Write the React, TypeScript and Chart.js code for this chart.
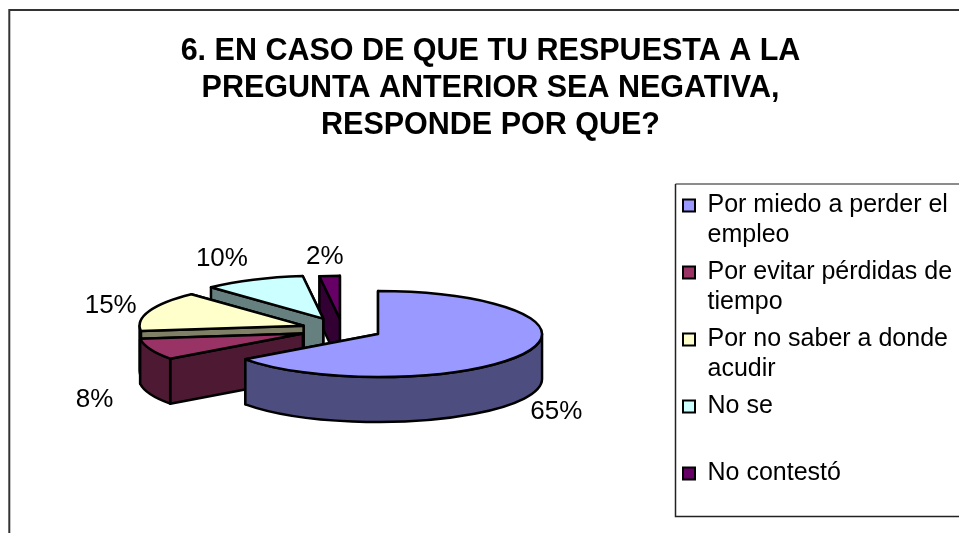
import React, { useEffect, useRef } from "react";
import { Chart, registerables } from "chart.js";

Chart.register(...registerables);

const categories = [
  ["Por miedo a perder el", "empleo"],
  ["Por evitar pérdidas de", "tiempo"],
  ["Por no saber a donde", "acudir"],
  ["No se", ""],
  ["No contestó", ""],
];
const percentages = [65, 8, 15, 10, 2];
const titleLines = [
  "6. EN CASO DE QUE TU RESPUESTA A LA",
  "PREGUNTA ANTERIOR SEA NEGATIVA,",
  "RESPONDE POR QUE?",
];
const topColors = ["#9999FF", "#993366", "#FFFFCC", "#CCFFFF", "#660066"];
const sideColors = ["#4D4D80", "#4D1933", "#808066", "#668080", "#330033"];

const FONT = "'Liberation Sans', Arial, sans-serif";
const TILT = 0.262;
const DEPTH = 45;
const EXPLODE = [160, 170, 165, 180, 160]; // Chart.js offset units: the arc moves by offset / 4 px
const RADIUS = 164;
const CENTER = { x: 342.4, y: 329.3 };
const LEGEND_FRAME = { left: 675, top: 184, bottom: 516 };
const LEGEND_POS = { left: 676, top: 186 };
const LABEL_GAP_X = [36, 60, 41, 74, 75];
const LABEL_GAP_Y = [30, 16, 16, 23, 19];

const layoutFix = {
  id: "layoutFix",
  afterLayout(chart: any) {
    const a = chart.chartArea;
    const w = a.width;
    const h = a.height;
    a.left = CENTER.x - w / 2;
    a.right = CENTER.x + w / 2;
    a.top = CENTER.y - h / 2;
    a.bottom = CENTER.y + h / 2;
    const l = chart.legend;
    const dx = LEGEND_POS.left - l.left;
    const dy = LEGEND_POS.top - l.top;
    l.left += dx;
    l.right += dx;
    l.top += dy;
    l.bottom += dy;
    l.adjustHitBoxes();
    const t = chart.titleBlock;
    const cx = 490.5;
    const tw = t.right - t.left;
    t.left = cx - tw / 2;
    t.right = cx + tw / 2;
  },
};

const framePlugin = {
  id: "frame",
  beforeDraw(chart: any) {
    const { ctx, width, height } = chart;
    ctx.save();
    ctx.fillStyle = "#ffffff";
    ctx.fillRect(0, 0, width, height);
    ctx.strokeStyle = "#333333";
    ctx.lineWidth = 2;
    ctx.beginPath();
    ctx.moveTo(width + 5, 10);
    ctx.lineTo(9.3, 10);
    ctx.lineTo(9.3, height + 5);
    ctx.stroke();
    ctx.lineWidth = 1.5;
    ctx.strokeStyle = "#666666";
    ctx.beginPath();
    ctx.moveTo(width + 5, LEGEND_FRAME.top);
    ctx.lineTo(LEGEND_FRAME.left + 0.5, LEGEND_FRAME.top);
    ctx.stroke();
    ctx.strokeStyle = "#222222";
    ctx.beginPath();
    ctx.moveTo(LEGEND_FRAME.left + 0.5, LEGEND_FRAME.top);
    ctx.lineTo(LEGEND_FRAME.left + 0.5, LEGEND_FRAME.bottom + 0.5);
    ctx.lineTo(width + 5, LEGEND_FRAME.bottom + 0.5);
    ctx.stroke();
    ctx.restore();
  },
};

const pie3d = {
  id: "pie3d",
  beforeDatasetsDraw(chart: any) {
    const { ctx } = chart;
    const arcs = chart.getDatasetMeta(0).data;
    ctx.save();
    ctx.lineWidth = 2.5;
    ctx.lineJoin = "round";
    ctx.strokeStyle = "#000000";
    for (let i = arcs.length - 1; i >= 0; i--) {
      const el = arcs[i];
      const { x, y, startAngle: a0, endAngle: a1, outerRadius: r } = el;
      const mid = (a0 + a1) / 2;
      const d = el.options.offset / 4;
      const cx = x + d * Math.cos(mid);
      const cy = y + TILT * d * Math.sin(mid);
      const ry = r * TILT;
      const px = (a: number) => cx + r * Math.cos(a);
      const py = (a: number) => cy + ry * Math.sin(a);

      ctx.fillStyle = sideColors[i];
      for (const a of [a1, a0]) {
        ctx.beginPath();
        ctx.moveTo(cx, cy);
        ctx.lineTo(px(a), py(a));
        ctx.lineTo(px(a), py(a) + DEPTH);
        ctx.lineTo(cx, cy + DEPTH);
        ctx.closePath();
        ctx.fill();
        ctx.stroke();
      }
      const lo = Math.max(a0, 0);
      const hi = Math.min(a1, Math.PI);
      if (hi > lo) {
        ctx.beginPath();
        ctx.ellipse(cx, cy, r, ry, 0, lo, hi);
        ctx.ellipse(cx, cy + DEPTH, r, ry, 0, hi, lo, true);
        ctx.closePath();
        ctx.fill();
        ctx.stroke();
      }
      ctx.fillStyle = topColors[i];
      ctx.beginPath();
      ctx.moveTo(cx, cy);
      ctx.ellipse(cx, cy, r, ry, 0, a0, a1);
      ctx.closePath();
      ctx.fill();
      ctx.stroke();
    }
    ctx.fillStyle = "#000000";
    ctx.font = `26px ${FONT}`;
    ctx.textAlign = "center";
    ctx.textBaseline = "middle";
    arcs.forEach((el: any, i: number) => {
      const { x, y, startAngle: a0, endAngle: a1, outerRadius: r } = el;
      const mid = (a0 + a1) / 2;
      const d = el.options.offset / 4;
      const cx = x + d * Math.cos(mid);
      const cy = y + TILT * d * Math.sin(mid);
      const s = Math.sin(mid);
      const lx = cx + (r + LABEL_GAP_X[i]) * Math.cos(mid);
      const ly = cy + r * TILT * s + (s > 0 ? DEPTH : 0) + LABEL_GAP_Y[i] * s;
      ctx.fillText(`${percentages[i]}%`, lx, ly);
    });
    ctx.restore();
    return false;
  },
};

export default function App() {
  const ref = useRef<HTMLCanvasElement>(null);
  useEffect(() => {
    const chart = new Chart(ref.current as HTMLCanvasElement, {
      type: "pie",
      data: {
        labels: categories as any,
        datasets: [
          {
            data: percentages,
            backgroundColor: topColors,
            borderColor: "#000000",
            borderWidth: 2,
            offset: EXPLODE,
          },
        ],
      },
      plugins: [layoutFix, framePlugin, pie3d],
      options: {
        animation: false,
        responsive: false,
        radius: RADIUS,
        plugins: {
          title: {
            display: true,
            text: titleLines,
            color: "#000000",
            align: "center",
            font: { family: FONT, size: 30.5, weight: "bold", lineHeight: 37 / 30.5 },
            padding: { top: 33, bottom: 0 },
          },
          legend: {
            display: true,
            position: "right",
            align: "start",
            labels: {
              color: "#000000",
              font: { family: FONT, size: 25, lineHeight: 30 / 25 },
              boxWidth: 12,
              boxHeight: 12,
              padding: 7,
              generateLabels() {
                return categories.map((text, i) => ({
                  text: text.filter(Boolean).length > 1 ? text : [text[0], ""],
                  fillStyle: topColors[i],
                  strokeStyle: "#000000",
                  lineWidth: 2,
                  fontColor: "#000000",
                  index: i,
                })) as any;
              },
            },
          },
          tooltip: { enabled: false },
        },
      } as any,
    });
    return () => chart.destroy();
  }, []);
  return (
    <canvas
      ref={ref}
      width={959}
      height={533}
      style={{ position: "absolute", left: 0, top: 0, display: "block" }}
    />
  );
}
